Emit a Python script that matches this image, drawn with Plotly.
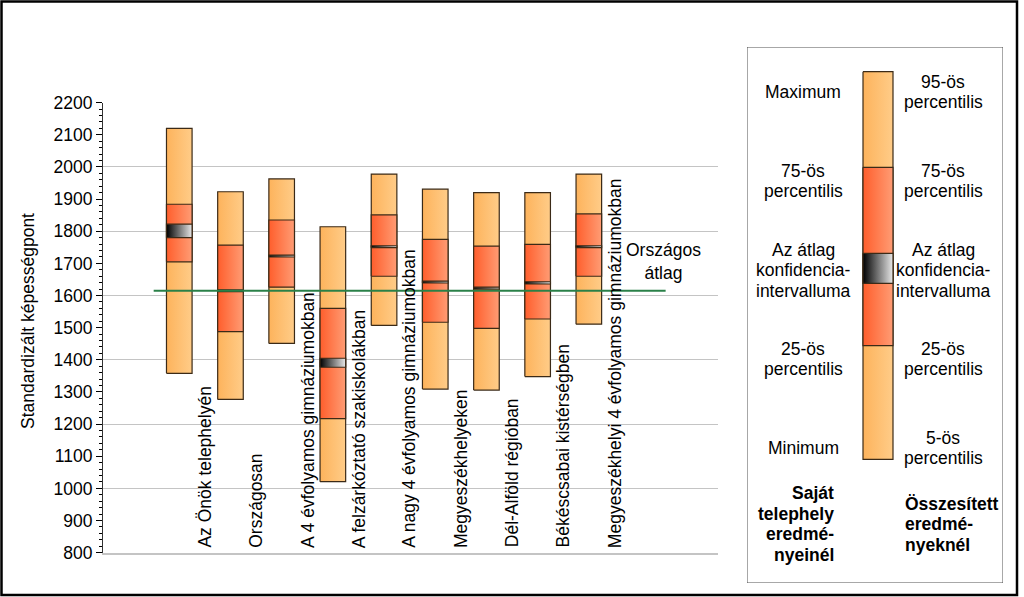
import plotly.graph_objects as go

# ---------------- data ----------------
categories = [
    "Az Önök telephelyén",
    "Országosan",
    "A 4 évfolyamos gimnáziumokban",
    "A felzárkóztató szakiskolákban",
    "A nagy 4 évfolyamos gimnáziumokban",
    "Megyeszékhelyeken",
    "Dél-Alföld régióban",
    "Békéscsabai kistérségben",
    "Megyeszékhelyi 4 évfolyamos gimnáziumokban",
]
p_low = [1358, 1277, 1451, 1021, 1507, 1309, 1306, 1348, 1511]
p25 = [1705, 1488, 1626, 1217, 1660, 1517, 1498, 1527, 1660]
ci_low = [1780, 1612, 1720, 1377, 1749, 1639, 1620, 1636, 1749]
ci_high = [1822, 1618, 1726, 1405, 1755, 1645, 1626, 1643, 1755]
p75 = [1884, 1757, 1835, 1560, 1851, 1775, 1754, 1759, 1854]
p_high = [2120, 1923, 1963, 1814, 1978, 1931, 1920, 1920, 1978]
national_mean = 1615
y_ticks = list(range(800, 2201, 100))

legend_left = ["Maximum", "75-ös<br>percentilis", "Az átlag<br>konfidencia-<br>intervalluma",
               "25-ös<br>percentilis", "Minimum"]
legend_right = ["95-ös<br>percentilis", "75-ös<br>percentilis", "Az átlag<br>konfidencia-<br>intervalluma",
                "25-ös<br>percentilis", "5-ös<br>percentilis"]
legend_bold_left = ["Saját", "telephely", "eredmé-", "nyeinél"]
legend_bold_right = ["Összesített", "eredmé-", "nyeknél"]

# ---------------- style ----------------
W, H = 1024, 597
PL, PR, PT, PB = 103, 718, 102.7, 552.7
FONT = "Liberation Sans, Arial, sans-serif"
FS = 17.5
HALF = 0.25
LIGHT = [[0, "#FDB35C"], [1, "#FFCC88"]]
DARK = [[0, "#FF5E2C"], [1, "#FF9C74"]]
CIG = [[0, "#000000"], [1, "#E8E8E8"]]
OUT = "#3b2a17"
GREEN = "#2a8048"

fig = go.Figure()


def rect(x0, x1, y0, y1, cs, xa="x", ya="y"):
    fig.add_trace(go.Scatter(
        x=[x0, x1, x1, x0, x0], y=[y0, y0, y1, y1, y0],
        mode="lines", fill="toself",
        fillgradient=dict(type="horizontal", colorscale=cs),
        line=dict(color=OUT, width=1.2),
        xaxis=xa, yaxis=ya, hoverinfo="skip", showlegend=False))


# dummy trace for grid overlay axis
fig.add_trace(go.Scatter(x=[None], y=[None], xaxis="x", yaxis="y3", showlegend=False))

for i in range(len(categories)):
    rect(i - HALF, i + HALF, p_low[i], p_high[i], LIGHT)
    rect(i - HALF, i + HALF, p25[i], p75[i], DARK)
    rect(i - HALF, i + HALF, ci_low[i], ci_high[i], CIG)

fig.add_trace(go.Scatter(x=[-0.5, len(categories) + 0.5], y=[national_mean, national_mean],
                         mode="lines", line=dict(color=GREEN, width=2),
                         hoverinfo="skip", showlegend=False))

# legend schematic (pixel-like axis inside legend box)
LX0, LX1, LY0, LY1 = 747, 1003, 47, 583
leg_levels = [71.7, 167.3, 253.3, 283.3, 345.7, 459.3]
bx0, bx1 = 863, 893
rect(bx0, bx1, leg_levels[0], leg_levels[5], LIGHT, "x2", "y2")
rect(bx0, bx1, leg_levels[1], leg_levels[4], DARK, "x2", "y2")
rect(bx0, bx1, leg_levels[2], leg_levels[3], CIG, "x2", "y2")

annotations = []
for i, c in enumerate(categories):
    annotations.append(dict(x=i + 0.5, y=800, xref="x", yref="y", text=c, textangle=-90,
                            xanchor="center", yanchor="bottom", yshift=3, showarrow=False,
                            font=dict(size=FS, color="black", family=FONT)))
annotations.append(dict(x=len(categories) + 0.45, y=national_mean + 90, xref="x", yref="y",
                        text="Országos<br>átlag", showarrow=False, align="center",
                        xanchor="center", yanchor="middle",
                        font=dict(size=FS, color="black", family=FONT)))
annotations.append(dict(x=28 / W, y=(H - 321) / H, xref="paper", yref="paper",
                        text="Standardizált képességpont", textangle=-90, showarrow=False,
                        xanchor="center", yanchor="middle",
                        font=dict(size=FS, color="black", family=FONT)))


def lines_at(lines, x, yc, xanchor, bold=False, spacing=20.5):
    n = len(lines)
    for k, t in enumerate(lines):
        y = yc + (k - (n - 1) / 2) * spacing
        annotations.append(dict(x=x, y=y, xref="x2", yref="y2",
                                text=f"<b>{t}</b>" if bold else t, showarrow=False,
                                xanchor=xanchor, yanchor="middle",
                                font=dict(size=FS, color="black", family=FONT)))


centers = [92, 181, 270, 359, 448]
for t, yc in zip(legend_left, centers):
    lines_at(t.split("<br>"), 803, yc, "center")
for t, yc in zip(legend_right, centers):
    lines_at(t.split("<br>"), 943, yc, "center")
lines_at(legend_bold_left, 836, 524, "right", bold=True)
lines_at(legend_bold_right, 903, 524, "left", bold=True)

shapes = [
    dict(type="rect", xref="x2", yref="y2", x0=LX0, x1=LX1, y0=LY0, y1=LY1,
         line=dict(color="#505050", width=1), layer="below"),
    dict(type="rect", xref="paper", yref="paper", x0=1.5 / W, x1=1017 / W,
         y0=(H - 595) / H, y1=(H - 1.5) / H, line=dict(color="black", width=2.5)),
]

fig.update_layout(
    width=W, height=H, margin=dict(l=0, r=0, t=0, b=0, pad=0, autoexpand=False),
    paper_bgcolor="white", plot_bgcolor="rgba(0,0,0,0)",
    font=dict(family=FONT, size=FS, color="black"),
    showlegend=False,
    xaxis=dict(domain=[PL / W, PR / W], range=[-1.49, 10.523], showgrid=False, zeroline=False,
               showticklabels=False, ticks="", showline=True, linecolor="#c4c4c4", linewidth=2,
               fixedrange=True, automargin=False),
    yaxis=dict(domain=[(H - PB) / H, (H - PT) / H], range=[800, 2200], tickvals=y_ticks,
               ticks="outside", ticklen=6, tickcolor="black", showline=True, linecolor="#333333",
               linewidth=1, showgrid=False, zeroline=False, tickfont=dict(size=FS),
               automargin=False,
               minor=dict(dtick=20, tick0=800, ticks="outside", ticklen=3, tickcolor="black",
                          showgrid=False)),
    yaxis3=dict(overlaying="y", range=[800, 2200], tick0=800, dtick=200, showgrid=True,
                gridcolor="#c4c4c4", gridwidth=1, showticklabels=False, ticks="", zeroline=False,
                showline=False, automargin=False),
    xaxis2=dict(domain=[LX0 / W, LX1 / W], range=[LX0, LX1], visible=False, anchor="y2",
                automargin=False),
    yaxis2=dict(domain=[(H - LY1) / H, (H - LY0) / H], range=[LY1, LY0], visible=False,
                anchor="x2", automargin=False),
    annotations=annotations,
    shapes=shapes,
)

fig.write_html(
    "out.html",
    config={"displayModeBar": False, "staticPlot": True},
    post_script=(
        "document.documentElement.style.cssText='margin:0;padding:0;overflow:hidden;height:597px;';"
        "document.body.style.cssText='margin:0;padding:0;overflow:hidden;height:597px;';"
        "var gd=document.querySelector('.plotly-graph-div');"
        "gd.style.position='absolute';gd.style.top='0px';gd.style.left='0px';"
    ),
)
